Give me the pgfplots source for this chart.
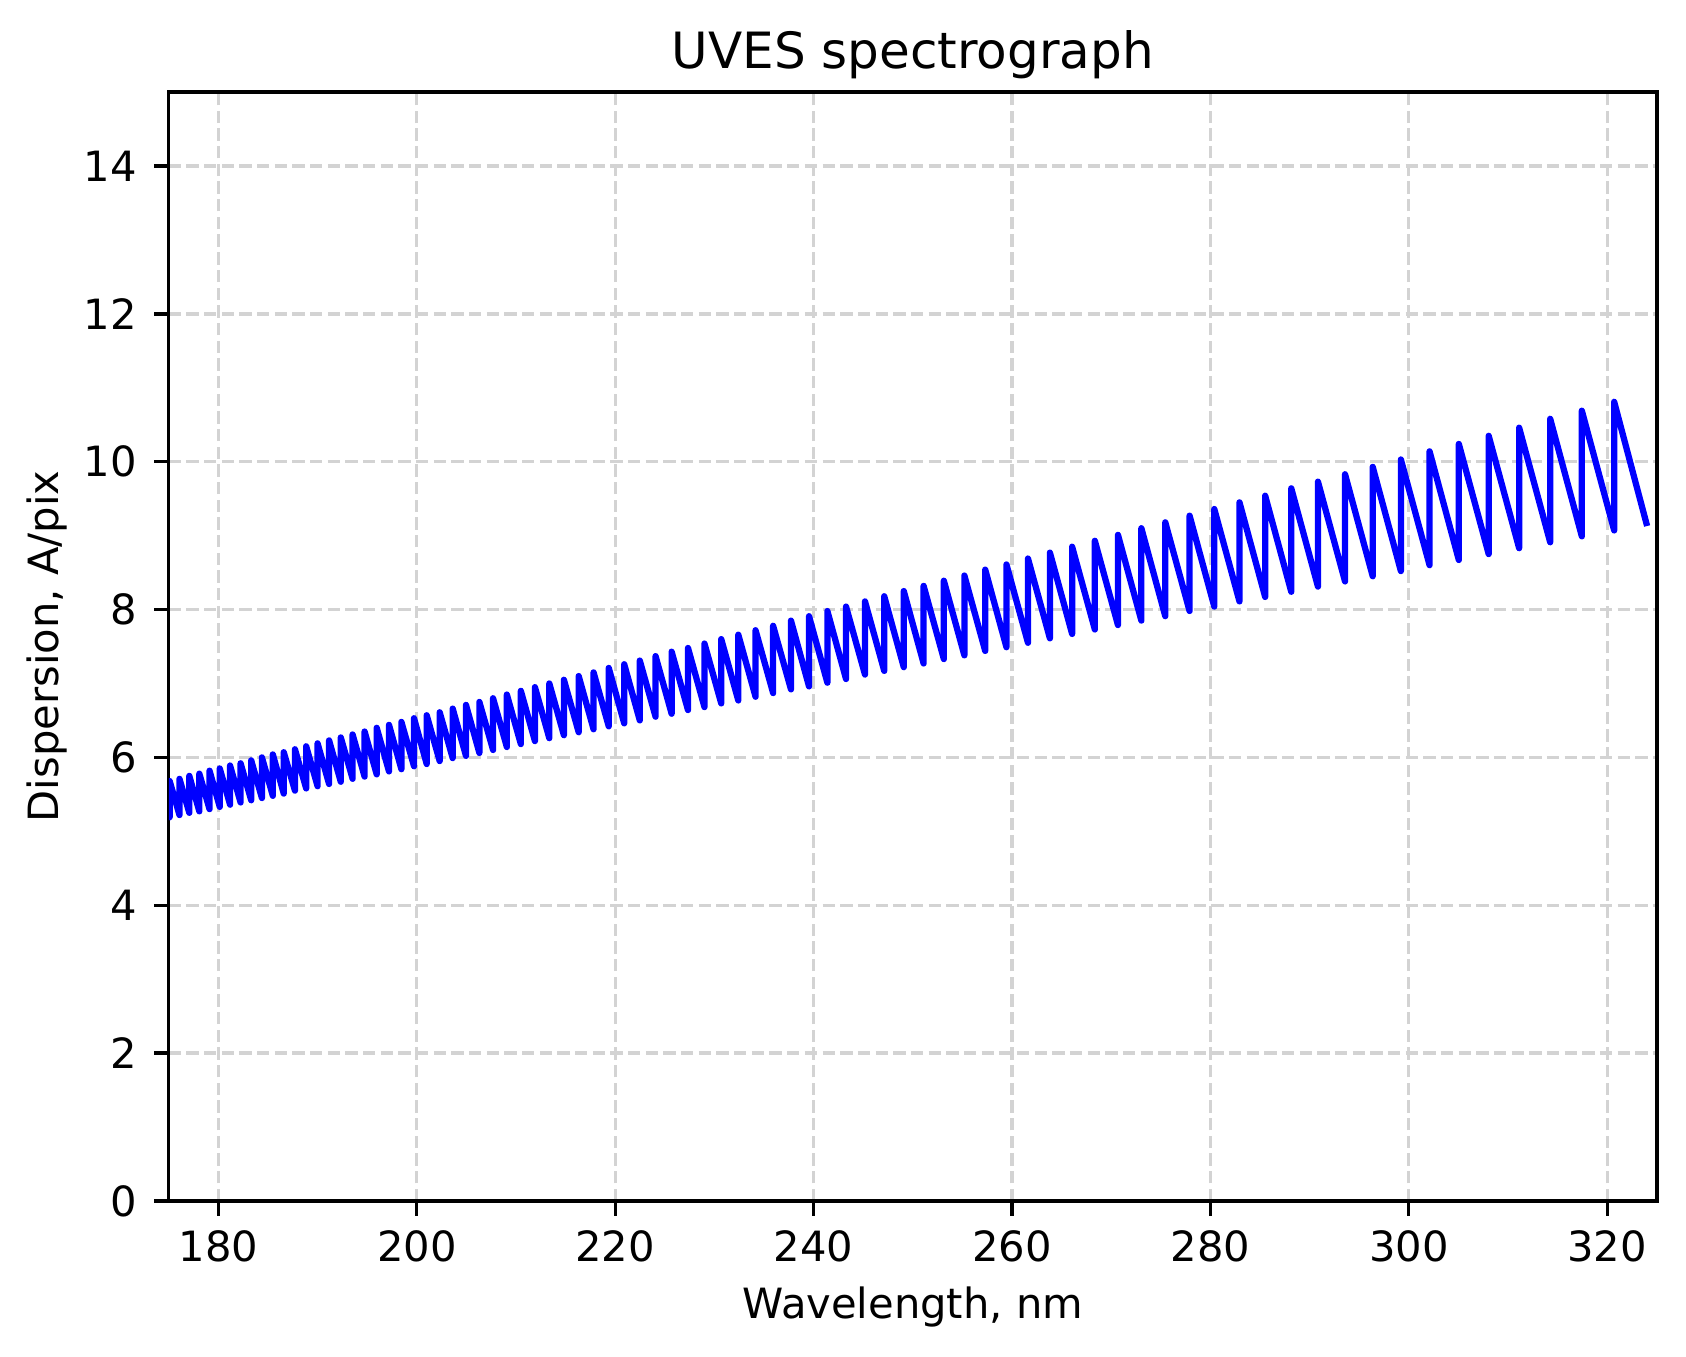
\documentclass[border=0pt]{standalone}
\usepackage{fontspec}
\setmainfont{DejaVu Sans}
\usepackage{pgfplots}
\pgfplotsset{compat=1.18}
\definecolor{gridgray}{RGB}{211,211,211}
\begin{document}
\begin{tikzpicture}
\begin{axis}[
  name=ax,
  scale only axis,
  width=357.1pt, height=266.1pt,
  xmin=175, xmax=325, ymin=0, ymax=15,
  xtick={180,200,...,320},
  ytick={0,2,...,14},
  /pgf/number format/assume math mode=true,
  tick label style={font=\fontsize{10}{12}\selectfont},
  tick align=outside,
  major tick length=3.5pt,
  every tick/.style={black, line width=0.8pt},
  xtick pos=bottom, ytick pos=left,
  axis line style={line width=0.8pt},
  xticklabel style={inner sep=0pt, anchor=north},
  yticklabel style={inner sep=0pt, anchor=east},
  xticklabel shift=3.5pt,
  yticklabel shift=4pt,
  grid=major,
  major grid style={gridgray, line width=0.8pt, dash pattern=on 2.96pt off 1.28pt},
  title={UVES spectrograph},
  title style={font=\fontsize{12}{14.4}\selectfont, at={(axis description cs:0.5,1)}, anchor=base, yshift=-0.4pt, inner sep=0pt},
  xlabel={Wavelength, nm},
  xlabel style={font=\fontsize{10}{12}\selectfont, at={(axis description cs:0.5,-0.1056)}, anchor=base, inner sep=0pt},
  ylabel={Dispersion, A/pix},
  ylabel style={font=\fontsize{10}{12}\selectfont, at={(axis description cs:-0.0739,0.5)}, anchor=base, inner sep=0pt},
]
\addplot[color=blue, line width=1.5pt, line join=round] coordinates {
(174.11,5.65)
(175.09,5.19)(175.09,5.68)
(176.08,5.22)(176.08,5.71)
(177.07,5.25)(177.07,5.75)
(178.08,5.27)(178.08,5.78)
(179.11,5.30)(179.11,5.82)
(180.14,5.33)(180.14,5.85)
(181.18,5.36)(181.18,5.89)
(182.24,5.39)(182.24,5.92)
(183.31,5.42)(183.31,5.96)
(184.39,5.45)(184.39,6.00)
(185.49,5.48)(185.49,6.04)
(186.59,5.51)(186.59,6.07)
(187.72,5.55)(187.72,6.11)
(188.85,5.58)(188.85,6.15)
(190.00,5.61)(190.00,6.19)
(191.16,5.64)(191.16,6.23)
(192.34,5.67)(192.34,6.27)
(193.53,5.71)(193.53,6.31)
(194.74,5.74)(194.74,6.35)
(195.96,5.77)(195.96,6.40)
(197.20,5.81)(197.20,6.44)
(198.45,5.84)(198.45,6.48)
(199.72,5.88)(199.72,6.53)
(201.00,5.91)(201.00,6.57)
(202.31,5.95)(202.31,6.61)
(203.62,5.99)(203.62,6.66)
(204.96,6.02)(204.96,6.71)
(206.31,6.06)(206.31,6.75)
(207.69,6.10)(207.69,6.80)
(209.08,6.14)(209.08,6.85)
(210.49,6.18)(210.49,6.90)
(211.91,6.22)(211.91,6.95)
(213.36,6.26)(213.36,7.00)
(214.83,6.30)(214.83,7.05)
(216.32,6.34)(216.32,7.10)
(217.82,6.38)(217.82,7.15)
(219.35,6.42)(219.35,7.21)
(220.91,6.46)(220.91,7.26)
(222.48,6.50)(222.48,7.31)
(224.07,6.55)(224.07,7.37)
(225.69,6.59)(225.69,7.43)
(227.34,6.64)(227.34,7.48)
(229.00,6.68)(229.00,7.54)
(230.69,6.73)(230.69,7.60)
(232.41,6.77)(232.41,7.66)
(234.15,6.82)(234.15,7.72)
(235.92,6.87)(235.92,7.78)
(237.72,6.92)(237.72,7.85)
(239.54,6.96)(239.54,7.91)
(241.39,7.01)(241.39,7.98)
(243.27,7.06)(243.27,8.04)
(245.18,7.12)(245.18,8.11)
(247.12,7.17)(247.12,8.18)
(249.09,7.22)(249.09,8.25)
(251.09,7.27)(251.09,8.32)
(253.13,7.33)(253.13,8.39)
(255.20,7.38)(255.20,8.46)
(257.30,7.44)(257.30,8.54)
(259.44,7.49)(259.44,8.61)
(261.61,7.55)(261.61,8.69)
(263.82,7.61)(263.82,8.77)
(266.06,7.67)(266.06,8.85)
(268.35,7.73)(268.35,8.93)
(270.68,7.79)(270.68,9.01)
(273.04,7.85)(273.04,9.10)
(275.45,7.91)(275.45,9.18)
(277.90,7.98)(277.90,9.27)
(280.39,8.04)(280.39,9.36)
(282.93,8.11)(282.93,9.45)
(285.52,8.17)(285.52,9.54)
(288.15,8.24)(288.15,9.64)
(290.84,8.31)(290.84,9.73)
(293.57,8.38)(293.57,9.83)
(296.36,8.45)(296.36,9.93)
(299.20,8.52)(299.20,10.03)
(302.09,8.60)(302.09,10.14)
(305.04,8.67)(305.04,10.24)
(308.05,8.75)(308.05,10.35)
(311.12,8.83)(311.12,10.46)
(314.25,8.91)(314.25,10.58)
(317.44,8.99)(317.44,10.69)
(320.70,9.07)(320.70,10.81)
(324.02,9.13)
};
\end{axis}
\path ([shift={(-40.5pt,-37.3pt)}]ax.south west) rectangle ([shift={(7pt,22.1pt)}]ax.north east);
\end{tikzpicture}
\end{document}
